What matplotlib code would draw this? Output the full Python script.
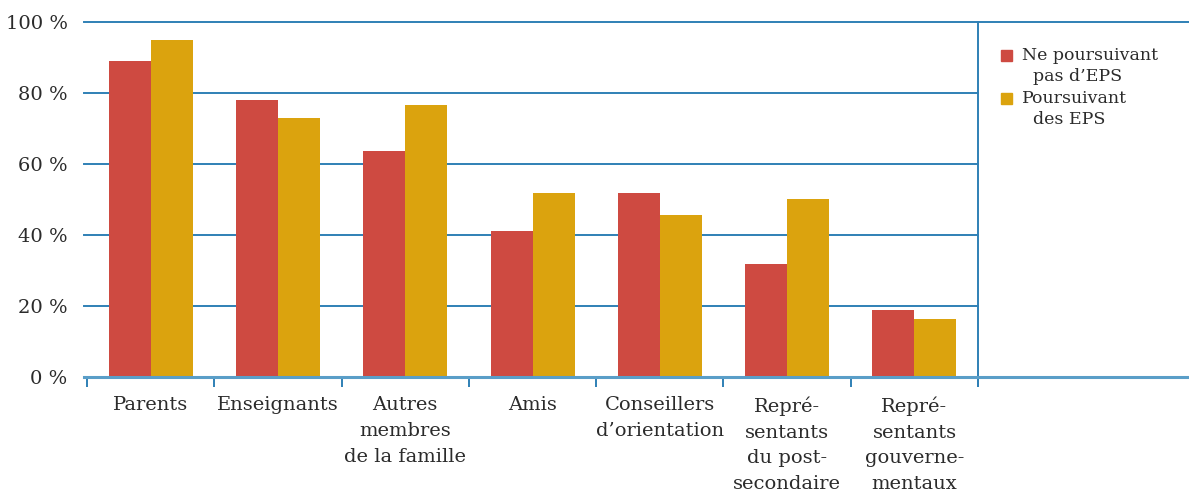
import numpy as np
import matplotlib.pyplot as plt
from matplotlib.patches import Rectangle

# === DATOS ===
categorias = ["Parents", "Enseignants", "Autres\nmembres\nde la famille", "Amis",
              "Conseillers\nd’orientation", "Repré-\nsentants\ndu post-\nsecondaire",
              "Repré-\nsentants\ngouverne-\nmentaux"]
ne_poursuivant = [89.0, 78.0, 63.7, 41.1, 51.8, 31.8, 18.9]
poursuivant = [95.0, 73.0, 76.6, 51.8, 45.6, 50.1, 16.3]
series_labels = ["Ne poursuivant\n  pas d’EPS", "Poursuivant\n  des EPS"]
y_ticks = [0, 20, 40, 60, 80, 100]
y_ticklabels = ["0 %", "20 %", "40 %", "60 %", "80 %", "100 %"]

ROJO = "#CE4A41"
ORO = "#DBA30E"
AZUL = "#2F80B6"
AZUL_EJE = "#5A9EC8"
TEXTO = "#2b2b2b"

plt.rcParams["font.family"] = ["DejaVu Serif"]

W, H = 1189, 494
fig = plt.figure(figsize=(W / 100, H / 100), dpi=100)
ax = fig.add_axes([87 / W, 117 / H, 1 - 87 / W, 355 / H])

n = len(categorias)
x = np.arange(n)
w = 0.33
ax.bar(x - w / 2, ne_poursuivant, w, color=ROJO, zorder=3)
ax.bar(x + w / 2, poursuivant, w, color=ORO, zorder=3)

x_right = (W - 87) / 127.3 - 0.5
ax.set_xlim(-0.5, x_right)
ax.set_ylim(0, 100)

# Líneas de cuadrícula (terminan en la línea vertical)
for v in y_ticks[1:-1]:
    ax.plot([-0.52, n - 0.5], [v, v], color=AZUL, lw=1.4, zorder=1, clip_on=False)
ax.plot([-0.52, x_right], [100, 100], color=AZUL, lw=1.4, zorder=1, clip_on=False)
ax.plot([-0.52, x_right], [0, 0], color=AZUL_EJE, lw=2.2, zorder=4, clip_on=False)
ax.plot([n - 0.5, n - 0.5], [-2.6, 100], color=AZUL, lw=1.4, zorder=1, clip_on=False)

for s in ax.spines.values():
    s.set_visible(False)

ax.set_yticks(y_ticks)
ax.set_yticklabels(y_ticklabels, fontsize=14, color=TEXTO)
ax.tick_params(axis="y", length=0, pad=14)

# Marcas entre categorías
ax.set_xticks(np.arange(-0.5, n, 1.0))
ax.set_xticklabels([])
ax.tick_params(axis="x", direction="out", length=7, width=1.4, color=AZUL)
ax.set_xticks(x, minor=True)
ax.set_xticklabels(categorias, minor=True, fontsize=14, color=TEXTO, linespacing=1.54,
                   va="top")
ax.tick_params(axis="x", which="minor", length=0, pad=14)

# Leyenda manual (cuadrado alineado con la primera línea)
for i, (lab, col) in enumerate(zip(series_labels, [ROJO, ORO])):
    y0 = 50 + i * 43
    fig.patches.append(Rectangle((1001 / W, 1 - (y0 + 11) / H), 11 / W, 11 / H,
                                 color=col, transform=fig.transFigure))
    fig.text(1022 / W, 1 - (y0 - 3) / H, lab, fontsize=12.5, color=TEXTO,
             va="top", ha="left", linespacing=1.3)

fig.savefig("out.png", dpi=100)
